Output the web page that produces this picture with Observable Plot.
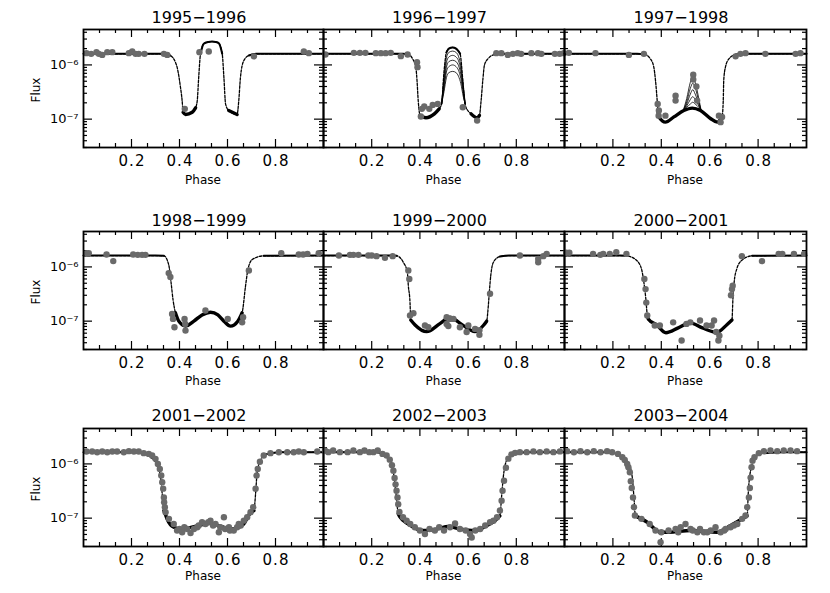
<!DOCTYPE html>
<html><head><meta charset="utf-8">
<script src="https://cdn.jsdelivr.net/npm/d3@7"></script>
<script src="https://cdn.jsdelivr.net/npm/@observablehq/plot@0.6"></script>
<style>
body{margin:0;background:#fff;}
#chart{position:relative;width:830px;height:593px;font-family:"DejaVu Sans",sans-serif;overflow:hidden;}
#chart svg{position:absolute;max-width:none;}
.lbl{position:absolute;white-space:nowrap;color:#000;line-height:1;transform:translate(-50%,-50%);}
</style></head><body><div id="chart"></div>
<script>
// ---------- text ----------
const titles = ["1995−1996","1996−1997","1997−1998","1998−1999","1999−2000","2000−2001","2001−2002","2002−2003","2003−2004"];
const xLabel = "Phase";
const yLabel = "Flux";
const xMajorTicks = [0.2,0.4,0.6,0.8];
const xMinorTicks = [0.0667,0.1333,0.2667,0.3333,0.4667,0.5333,0.6667,0.7333,0.8667,0.9333];
const yMajorTicks = [1e-7,1e-6];
const yTickLabels = ["10⁻⁷","10⁻⁶"];
const yMinorTicks = [3e-8,4e-8,5e-8,6e-8,7e-8,8e-8,9e-8,2e-7,3e-7,4e-7,5e-7,6e-7,7e-7,8e-7,9e-7,2e-6,3e-6,4e-6];

// ---------- 1995-1996 ----------
const model9596 = [[0,1.6e-6],[0.34,1.6e-6],[0.362,1.49e-6],[0.383,1.12e-6],[0.39,9.1e-7],[0.404,3.9e-7],[0.411,2.2e-7],[0.415,1.34e-7],[0.425,1.22e-7],[0.453,1.34e-7],[0.467,1.62e-7],[0.474,2.2e-7],[0.48,5.9e-7],[0.4875,1.6e-6],[0.501,2.45e-6],[0.52,2.65e-6],[0.536,2.7e-6],[0.55,2.65e-6],[0.564,2.5e-6],[0.578,1.6e-6],[0.585,5.9e-7],[0.592,1.9e-7],[0.605,1.44e-7],[0.64,1.22e-7],[0.647,2.2e-7],[0.654,5.9e-7],[0.668,1.2e-6],[0.689,1.49e-6],[0.72,1.6e-6],[1,1.6e-6]];
const data9596 = [[0.0125,1.65e-6],[0.032,1.6e-6],[0.054,1.72e-6],[0.064,1.6e-6],[0.078,1.53e-6],[0.099,1.72e-6],[0.12,1.72e-6],[0.189,1.65e-6],[0.203,1.77e-6],[0.217,1.6e-6],[0.23,1.6e-6],[0.254,1.6e-6],[0.335,1.6e-6],[0.349,1.53e-6],[0.422,1.55e-7],[0.483,1.72e-6],[0.522,1.77e-6],[0.71,1.44e-6],[0.918,1.77e-6],[0.939,1.65e-6]];

// ---------- 1996-1997 ----------
const model9697 = [[0,1.6e-6],[0.33,1.6e-6],[0.349,1.58e-6],[0.37,1.29e-6],[0.383,9.1e-7],[0.388,5.2e-7],[0.393,2.2e-7],[0.401,1.17e-7],[0.425,1.06e-7],[0.46,1.25e-7],[0.48,1.55e-7],[0.49,1.9e-7],[0.5,7.5e-7],[0.51,1.7e-6],[0.52,2.0e-6],[0.536,2.1e-6],[0.55,2.0e-6],[0.56,1.8e-6],[0.567,1.6e-6],[0.578,5.2e-7],[0.585,2.2e-7],[0.59,1.7e-7],[0.6125,1.25e-7],[0.6375,1.06e-7],[0.647,1.17e-7],[0.654,2.2e-7],[0.661,5.2e-7],[0.668,1.0e-6],[0.682,1.29e-6],[0.71,1.55e-6],[0.75,1.6e-6],[1,1.6e-6]];
const peakPhase9697 = [0.49,0.50,0.51,0.52,0.536,0.55,0.56,0.57,0.58,0.588];
const peakA9697 = [1.9e-7,6.0e-7,1.35e-6,1.7e-6,1.8e-6,1.7e-6,1.45e-6,9.5e-7,4.3e-7,1.9e-7];
const peakB9697 = [1.9e-7,5.0e-7,1.1e-6,1.4e-6,1.5e-6,1.4e-6,1.2e-6,8.0e-7,3.8e-7,1.9e-7];
const peakC9697 = [1.9e-7,4.3e-7,9.0e-7,1.15e-6,1.22e-6,1.15e-6,9.8e-7,6.7e-7,3.4e-7,1.9e-7];
const peakD9697 = [1.9e-7,3.7e-7,7.4e-7,9.3e-7,1.0e-6,9.3e-7,8.0e-7,5.6e-7,3.0e-7,1.9e-7];
const peakE9697 = [1.9e-7,3.2e-7,5.8e-7,7.2e-7,7.6e-7,7.2e-7,6.2e-7,4.5e-7,2.6e-7,1.9e-7];
const data9697 = [[0.008,1.56e-6],[0.126,1.67e-6],[0.151,1.67e-6],[0.174,1.67e-6],[0.217,1.65e-6],[0.238,1.65e-6],[0.258,1.65e-6],[0.279,1.67e-6],[0.321,1.45e-6],[0.349,1.56e-6],[0.388,1.12e-6],[0.39,9.1e-7],[0.404,1.12e-7],[0.408,1.55e-7],[0.418,1.71e-7],[0.439,1.55e-7],[0.453,1.83e-7],[0.474,1.91e-7],[0.578,1.66e-7],[0.6375,9.4e-8],[0.717,1.65e-6],[0.738,1.65e-6],[0.765,1.53e-6],[0.786,1.6e-6],[0.806,1.65e-6],[0.82,1.6e-6],[0.8625,1.65e-6],[0.89,1.65e-6],[0.904,1.6e-6],[0.96,1.6e-6],[0.98,1.6e-6],[0.997,1.65e-6]];

// ---------- 1997-1998 ----------
const model9798 = [[0,1.6e-6],[0.3,1.6e-6],[0.328,1.58e-6],[0.355,1.29e-6],[0.369,9.1e-7],[0.376,5.2e-7],[0.383,2.2e-7],[0.386,1.44e-7],[0.39,1.1e-7],[0.417,8.8e-8],[0.452,1.1e-7],[0.493,1.44e-7],[0.528,1.6e-7],[0.562,1.44e-7],[0.603,1.03e-7],[0.631,8.8e-8],[0.651,1.1e-7],[0.656,2.2e-7],[0.658,5.2e-7],[0.665,9.1e-7],[0.679,1.29e-6],[0.707,1.55e-6],[0.75,1.6e-6],[1,1.6e-6]];
const peakPhase9798 = [0.49,0.505,0.52,0.53,0.54,0.555,0.565];
const peakA9798 = [1.42e-7,2.4e-7,4.8e-7,6.2e-7,4.8e-7,2.4e-7,1.42e-7];
const peakB9798 = [1.42e-7,2.1e-7,3.7e-7,4.6e-7,3.8e-7,2.1e-7,1.42e-7];
const peakC9798 = [1.42e-7,1.9e-7,2.9e-7,3.5e-7,2.9e-7,1.9e-7,1.42e-7];
const peakD9798 = [1.42e-7,1.75e-7,2.3e-7,2.6e-7,2.3e-7,1.75e-7,1.42e-7];
const peakE9798 = [1.42e-7,1.65e-7,1.9e-7,2.05e-7,1.9e-7,1.65e-7,1.42e-7];
const data9798 = [[0.018,1.67e-6],[0.128,1.65e-6],[0.266,1.53e-6],[0.328,1.6e-6],[0.385,1.9e-7],[0.389,1.16e-7],[0.39,1.44e-7],[0.417,1.16e-7],[0.459,2.7e-7],[0.459,2.2e-7],[0.532,6.6e-7],[0.532,5.4e-7],[0.545,4.0e-7],[0.548,2.2e-7],[0.638,1.16e-7],[0.645,8.8e-8],[0.651,1.1e-7],[0.707,1.44e-6],[0.727,1.6e-6],[0.748,1.65e-6],[0.83,1.6e-6],[0.955,1.6e-6],[0.975,1.65e-6]];

// ---------- 1998-1999 ----------
const model9899 = [[0,1.62e-6],[0.3,1.62e-6],[0.335,1.6e-6],[0.355,1.1e-6],[0.365,5.1e-7],[0.373,2.5e-7],[0.383,1.43e-7],[0.397,1.0e-7],[0.425,8.1e-8],[0.46,1.0e-7],[0.494,1.3e-7],[0.529,1.46e-7],[0.56,1.3e-7],[0.585,1.0e-7],[0.6125,8.1e-8],[0.643,1.0e-7],[0.657,1.3e-7],[0.661,1.43e-7],[0.675,4.4e-7],[0.685,8.9e-7],[0.703,1.37e-6],[0.751,1.6e-6],[1,1.62e-6]];
const data9899 = [[0.0125,1.79e-6],[0.022,1.79e-6],[0.096,1.69e-6],[0.124,1.28e-6],[0.207,1.69e-6],[0.226,1.67e-6],[0.244,1.67e-6],[0.258,1.67e-6],[0.355,7.7e-7],[0.362,6.5e-7],[0.369,1.36e-7],[0.373,1.1e-7],[0.379,7.7e-8],[0.421,1.1e-7],[0.424,8.9e-8],[0.425,6.7e-8],[0.508,1.57e-7],[0.601,1.1e-7],[0.661,9.5e-8],[0.665,1.18e-7],[0.689,8.6e-7],[0.824,1.79e-6],[0.897,1.69e-6],[0.915,1.69e-6],[0.933,1.74e-6],[0.98,1.79e-6]];

// ---------- 1999-2000 ----------
const model9900 = [[0,1.62e-6],[0.28,1.62e-6],[0.304,1.6e-6],[0.331,1.22e-6],[0.348,8e-7],[0.352,4.5e-7],[0.359,2.2e-7],[0.362,1.05e-7],[0.38,8.5e-8],[0.428,6.4e-8],[0.483,9.0e-8],[0.525,1.18e-7],[0.566,9.2e-8],[0.629,6.4e-8],[0.665,8.5e-8],[0.677,1.0e-7],[0.684,1.94e-7],[0.688,3.4e-7],[0.694,6.9e-7],[0.705,1.22e-6],[0.732,1.55e-6],[0.77,1.62e-6],[1,1.62e-6]];
const data9900 = [[0.064,1.62e-6],[0.11,1.67e-6],[0.124,1.67e-6],[0.145,1.67e-6],[0.186,1.62e-6],[0.2,1.62e-6],[0.22,1.58e-6],[0.255,1.47e-6],[0.287,1.58e-6],[0.352,8.6e-7],[0.356,6.0e-7],[0.359,1.27e-7],[0.373,1.4e-7],[0.421,8.3e-8],[0.435,7.7e-8],[0.511,1.18e-7],[0.511,8.9e-8],[0.518,8.1e-8],[0.525,1.1e-7],[0.539,1.1e-7],[0.566,7.7e-8],[0.594,6.3e-8],[0.601,8.3e-8],[0.629,7.2e-8],[0.647,5.6e-8],[0.647,6.8e-8],[0.691,3.2e-7],[0.815,1.62e-6],[0.891,1.41e-6],[0.891,1.22e-6],[0.912,1.58e-6],[0.926,1.74e-6]];

// ---------- 2000-2001 ----------
const model0001 = [[0,1.62e-6],[0.23,1.62e-6],[0.256,1.6e-6],[0.297,1.33e-6],[0.318,9.2e-7],[0.328,5.2e-7],[0.336,2.6e-7],[0.342,1.3e-7],[0.346,1.1e-7],[0.38,8.6e-8],[0.419,6.1e-8],[0.47,7.5e-8],[0.519,9.3e-8],[0.57,7.5e-8],[0.629,6.2e-8],[0.671,8.6e-8],[0.692,1.05e-7],[0.696,2.6e-7],[0.701,5.2e-7],[0.712,9.2e-7],[0.733,1.33e-6],[0.775,1.6e-6],[1,1.62e-6]];
const data0001 = [[0.007,1.82e-6],[0.02,1.82e-6],[0.118,1.74e-6],[0.148,1.67e-6],[0.16,1.74e-6],[0.187,1.74e-6],[0.214,1.87e-6],[0.256,1.74e-6],[0.33,6.0e-7],[0.335,3.9e-7],[0.338,2.2e-7],[0.342,1.27e-7],[0.373,8.3e-8],[0.394,8.3e-8],[0.449,9.5e-8],[0.484,4.4e-8],[0.504,8.9e-8],[0.52,9.5e-8],[0.56,1.03e-7],[0.587,8.3e-8],[0.608,8.3e-8],[0.618,1.03e-7],[0.627,6.3e-8],[0.636,4.4e-8],[0.64,5.4e-8],[0.688,3.0e-7],[0.692,3.9e-7],[0.695,4.5e-7],[0.733,1.58e-6],[0.816,1.28e-6],[0.885,1.74e-6],[0.9,1.74e-6],[0.948,1.74e-6],[0.99,1.74e-6]];

// ---------- 2001-2002 ----------
const model0102 = [[0,1.64e-6],[0.2,1.64e-6],[0.2375,1.6e-6],[0.279,1.33e-6],[0.307,9.3e-7],[0.321,5.7e-7],[0.328,2.8e-7],[0.335,1.38e-7],[0.342,1.15e-7],[0.349,9.5e-8],[0.376,6.8e-8],[0.411,6.3e-8],[0.474,7.2e-8],[0.529,8e-8],[0.571,7.1e-8],[0.62,6.3e-8],[0.668,7.8e-8],[0.689,1.15e-7],[0.71,1.38e-7],[0.717,2.8e-7],[0.723,6.6e-7],[0.735,1.1e-6],[0.758,1.5e-6],[0.821,1.64e-6],[1,1.64e-6]];
const data0102 = [[0.0125,1.69e-6],[0.036,1.69e-6],[0.057,1.64e-6],[0.078,1.69e-6],[0.099,1.64e-6],[0.12,1.69e-6],[0.14,1.69e-6],[0.168,1.64e-6],[0.189,1.72e-6],[0.21,1.69e-6],[0.23,1.69e-6],[0.251,1.58e-6],[0.272,1.53e-6],[0.286,1.43e-6],[0.3,1.24e-6],[0.31,1.0e-6],[0.318,8.1e-7],[0.324,6.1e-7],[0.328,4.6e-7],[0.332,3.5e-7],[0.335,2.4e-7],[0.336,1.97e-7],[0.339,1.59e-7],[0.342,1.29e-7],[0.356,9.7e-8],[0.376,7.8e-8],[0.39,5.9e-8],[0.40,6.3e-8],[0.411,5.5e-8],[0.42,6.8e-8],[0.432,6.3e-8],[0.446,5.3e-8],[0.46,6.3e-8],[0.474,6.8e-8],[0.48,7.3e-8],[0.494,8.4e-8],[0.508,7.8e-8],[0.52,8.4e-8],[0.529,9.0e-8],[0.54,7.3e-8],[0.55,7.8e-8],[0.564,5.5e-8],[0.57,6.8e-8],[0.585,1.04e-7],[0.59,6.3e-8],[0.606,6.8e-8],[0.61,5.9e-8],[0.626,5.9e-8],[0.64,6.8e-8],[0.647,7.8e-8],[0.655,7.3e-8],[0.668,9.0e-8],[0.682,1.04e-7],[0.696,1.29e-7],[0.707,1.59e-7],[0.717,3.5e-7],[0.721,6.1e-7],[0.726,8.1e-7],[0.735,1.1e-6],[0.751,1.43e-6],[0.779,1.58e-6],[0.814,1.64e-6],[0.849,1.64e-6],[0.876,1.64e-6],[0.897,1.69e-6],[0.918,1.64e-6],[0.974,1.69e-6]];

// ---------- 2002-2003 ----------
const model0203 = [[0,1.65e-6],[0.22,1.65e-6],[0.248,1.53e-6],[0.269,1.33e-6],[0.283,1.0e-6],[0.293,5.7e-7],[0.301,2.8e-7],[0.31,1.2e-7],[0.317,1.05e-7],[0.352,7.8e-8],[0.414,5.9e-8],[0.47,6.3e-8],[0.518,7.0e-8],[0.566,6.3e-8],[0.629,5.9e-8],[0.677,7.3e-8],[0.712,9.0e-8],[0.732,1.1e-7],[0.739,2.5e-7],[0.746,5.7e-7],[0.76,1.16e-6],[0.788,1.53e-6],[0.843,1.65e-6],[1,1.65e-6]];
const data0203 = [[0.006,1.77e-6],[0.02,1.65e-6],[0.04,1.77e-6],[0.068,1.65e-6],[0.1,1.65e-6],[0.124,1.77e-6],[0.151,1.65e-6],[0.17,1.77e-6],[0.19,1.65e-6],[0.207,1.65e-6],[0.225,1.77e-6],[0.245,1.53e-6],[0.262,1.43e-6],[0.275,1.2e-6],[0.284,9.5e-7],[0.29,7.5e-7],[0.295,5.5e-7],[0.299,4.2e-7],[0.303,3.2e-7],[0.307,2.4e-7],[0.31,1.8e-7],[0.315,1.3e-7],[0.33,1.04e-7],[0.345,9.0e-8],[0.36,7.8e-8],[0.379,6.8e-8],[0.4,5.9e-8],[0.421,5.1e-8],[0.44,6.3e-8],[0.462,5.9e-8],[0.48,6.8e-8],[0.5,5.9e-8],[0.525,6.8e-8],[0.546,8.0e-8],[0.566,6.3e-8],[0.59,5.9e-8],[0.608,5.1e-8],[0.615,4.4e-8],[0.63,5.9e-8],[0.65,6.3e-8],[0.671,7.3e-8],[0.691,8.4e-8],[0.705,9.0e-8],[0.72,1.04e-7],[0.732,1.38e-7],[0.739,2.1e-7],[0.743,3.2e-7],[0.749,4.9e-7],[0.757,8.5e-7],[0.767,1.25e-6],[0.78,1.5e-6],[0.795,1.6e-6],[0.815,1.65e-6],[0.843,1.65e-6],[0.871,1.7e-6],[0.898,1.65e-6],[0.926,1.7e-6],[0.954,1.65e-6],[0.981,1.7e-6]];

// ---------- 2003-2004 ----------
const model0304 = [[0,1.65e-6],[0.18,1.65e-6],[0.204,1.58e-6],[0.238,1.33e-6],[0.266,1.0e-6],[0.28,5.7e-7],[0.287,2.4e-7],[0.293,1.1e-7],[0.342,8.4e-8],[0.397,5.5e-8],[0.431,5.5e-8],[0.521,5.9e-8],[0.631,5.5e-8],[0.686,7.3e-8],[0.734,9.7e-8],[0.755,1.1e-7],[0.759,2.7e-7],[0.769,7.5e-7],[0.789,1.33e-6],[0.824,1.58e-6],[0.906,1.65e-6],[1,1.65e-6]];
const data0304 = [[0.011,1.72e-6],[0.039,1.64e-6],[0.066,1.72e-6],[0.094,1.64e-6],[0.121,1.72e-6],[0.149,1.64e-6],[0.176,1.72e-6],[0.197,1.64e-6],[0.221,1.53e-6],[0.239,1.33e-6],[0.249,1.18e-6],[0.259,1.0e-6],[0.264,8.7e-7],[0.27,7.0e-7],[0.274,4.8e-7],[0.278,3.6e-7],[0.283,2.4e-7],[0.287,1.59e-7],[0.291,1.12e-7],[0.318,9.7e-8],[0.352,7.8e-8],[0.376,5.9e-8],[0.397,3.6e-8],[0.4,5.5e-8],[0.43,5.9e-8],[0.459,6.3e-8],[0.47,5.5e-8],[0.48,6.8e-8],[0.5,7.8e-8],[0.521,6.3e-8],[0.53,5.9e-8],[0.549,5.5e-8],[0.56,6.3e-8],[0.576,5.5e-8],[0.59,5.5e-8],[0.604,5.9e-8],[0.624,6.8e-8],[0.645,5.5e-8],[0.66,5.9e-8],[0.666,6.3e-8],[0.686,6.8e-8],[0.70,7.3e-8],[0.714,7.8e-8],[0.734,9.7e-8],[0.748,1.12e-7],[0.755,1.59e-7],[0.762,2.4e-7],[0.766,3.6e-7],[0.769,5.6e-7],[0.773,8.7e-7],[0.777,1.15e-6],[0.785,1.33e-6],[0.803,1.58e-6],[0.824,1.72e-6],[0.851,1.77e-6],[0.879,1.72e-6],[0.906,1.77e-6],[0.934,1.77e-6],[0.961,1.72e-6]];

// ---------- assemble ----------
const models = [model9596, model9697, model9798, model9899, model9900, model0001, model0102, model0203, model0304];
const datas  = [data9596, data9697, data9798, data9899, data9900, data0001, data0102, data0203, data0304];
const peaks = {
  1: {phase: peakPhase9697, curves: [peakA9697, peakB9697, peakC9697, peakD9697, peakE9697]},
  2: {phase: peakPhase9798, curves: [peakA9798, peakB9798, peakC9798, peakD9798, peakE9798]}
};

const colLeft = [83, 323, 564], colW = [240, 241, 242];
const rowTop = [29, 231, 428], rowH = 118;
const yDomain = [3e-8, 4.5e-6];
const titleY = [18, 220.5, 416], phaseY = [179.5, 381, 576];
const chart = document.getElementById("chart");

function runsOf(pts, test) {
  const out = []; let z = 0, prev = false;
  for (const p of pts) { const ok = test(p[1]); if (ok) { if (!prev) z++; out.push({x: p[0], y: p[1], z}); } prev = ok; }
  return out;
}
function addLabel(text, x, y, size, extra) {
  const d = document.createElement("div");
  d.className = "lbl"; d.textContent = text;
  d.style.left = x + "px"; d.style.top = y + "px"; d.style.fontSize = size + "px";
  if (extra) d.style.transform = extra;
  chart.appendChild(d);
}

for (let i = 0; i < 9; i++) {
  const r = Math.floor(i / 3), c = i % 3;
  const w = colW[c], mL = c === 0 ? 60 : 0, mB = 40;
  const model = models[i].map(p => ({x: p[0], y: p[1]}));
  const peakRows = [];
  if (peaks[i]) peaks[i].curves.forEach((cv, k) => cv.forEach((v, j) => peakRows.push({x: peaks[i].phase[j], y: v, z: k})));
  const thick = runsOf(models[i], v => v < 1.7e-7);
  const flat = runsOf(models[i], v => v > 1.4e-6);
  const blank = () => "";
  const tk = {stroke: "black", strokeWidth: 1.2};
  const svg = Plot.plot({
    width: w + mL, height: rowH + mB,
    marginLeft: mL, marginRight: 0, marginTop: 0, marginBottom: mB,
    x: {domain: [0, 1]},
    y: {type: "log", domain: yDomain},
    style: {background: "none", overflow: "visible", fontFamily: "DejaVu Sans", color: "black"},
    marks: [
      // inward ticks on all four sides
      Plot.tickX(xMinorTicks, {x: d => d, insetTop: rowH - 4, ...tk}),
      Plot.tickX(xMinorTicks, {x: d => d, insetBottom: rowH - 4, ...tk}),
      Plot.tickX(xMajorTicks, {x: d => d, insetTop: rowH - 8, ...tk}),
      Plot.tickX(xMajorTicks, {x: d => d, insetBottom: rowH - 8, ...tk}),
      Plot.tickY(yMinorTicks, {y: d => d, insetRight: w - 4, ...tk}),
      Plot.tickY(yMinorTicks, {y: d => d, insetLeft: w - 4, ...tk}),
      Plot.tickY(yMajorTicks, {y: d => d, insetRight: w - 9, ...tk}),
      Plot.tickY(yMajorTicks, {y: d => d, insetLeft: w - 9, ...tk}),
      // tick labels
      Plot.axisX(xMajorTicks, {anchor: "bottom", tickSize: 0, tickPadding: 8, dx: 0.5, tickFormat: d => d.toFixed(1), label: null, fontSize: 15}),
      ...(c === 0 ? [Plot.axisY(yMajorTicks, {anchor: "left", tickSize: 0, tickPadding: 5, tickFormat: d => yTickLabels[yMajorTicks.indexOf(d)], label: null, fontSize: 13})]
                  : [Plot.axisY(yMajorTicks, {anchor: "left", tickSize: 0, tickFormat: blank, label: null})]),
      // model curves
      Plot.line(peakRows, {x: "x", y: "y", z: "z", stroke: "black", strokeWidth: 0.8, curve: "monotone-x"}),
      Plot.line(model, {x: "x", y: "y", stroke: "black", strokeWidth: 1.3, strokeDasharray: "2.5,1.5", curve: "monotone-x"}),
      Plot.line(thick, {x: "x", y: "y", z: "z", stroke: "black", strokeWidth: 3.4, curve: "monotone-x"}),
      Plot.line(flat, {x: "x", y: "y", z: "z", stroke: "black", strokeWidth: 2, curve: "monotone-x"}),
      // observations
      Plot.dot(datas[i], {x: d => d[0], y: d => d[1], r: 3.2, fill: "#6a6a6a", stroke: null}),
      Plot.frame({stroke: "black", strokeWidth: 1.8})
    ]
  });
  svg.querySelectorAll('g[aria-label="x-axis tick label"] text').forEach(t => t.style.letterSpacing = "1px");
  svg.style.left = (colLeft[c] - mL) + "px";
  svg.style.top = rowTop[r] + "px";
  chart.appendChild(svg);
  addLabel(titles[i], colLeft[c] + w / 2 - 4, titleY[r], 16);
  addLabel(xLabel, colLeft[c] + w / 2, phaseY[r], 12);
}
for (let r = 0; r < 3; r++) addLabel(yLabel, 36, rowTop[r] + rowH / 2 + 2, 12, "translate(-50%,-50%) rotate(-90deg)");
</script></body></html>
